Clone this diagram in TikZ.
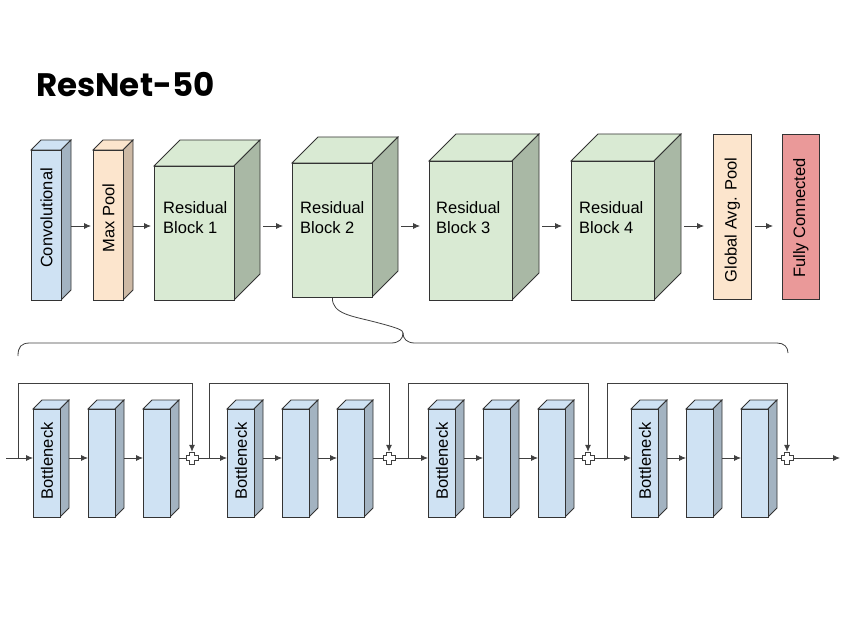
\documentclass[tikz,border=0pt]{standalone}
\usepackage{fontspec}
\setmainfont{Liberation Sans}
\newfontfamily\titlefont{Poppins}
\usepackage{tikz}
\usetikzlibrary{arrows.meta, calc, positioning}

\definecolor{convblue}{HTML}{CFE2F3}
\definecolor{convside}{HTML}{A3B3C1}
\definecolor{poolorange}{HTML}{FCE5CD}
\definecolor{poolside}{HTML}{CDB9A5}
\definecolor{resgreen}{HTML}{D9EAD3}
\definecolor{resside}{HTML}{A9B8A5}
\definecolor{fcred}{HTML}{EA9999}
\definecolor{edgegrey}{HTML}{333333}
\definecolor{linegrey}{HTML}{404040}

% 3D block: name, x, y (top of front face), width, height, depth, front colour, side colour
\newcommand{\cuboid}[8]{%
  \filldraw[box,fill=#7] (#2,#3) -- ++(#6,-#6) -- ++(#4,0) -- ++(-#6,#6) -- cycle;
  \filldraw[box,fill=#8] (#2+#4,#3) -- ++(#6,-#6) -- ++(0,#5) -- ++(-#6,#6) -- cycle;
  \node[box,fill=#7,minimum width=#4pt,minimum height=#5pt,anchor=north west] (#1) at (#2,#3) {};
  \coordinate (#1-o) at (#2+#4+#6,\liney);
}

\begin{document}
\begin{tikzpicture}[
    x=1pt, y=-1pt,
    >={Latex[length=7pt,width=6pt]},
    box/.style={draw=edgegrey,line width=0.8pt,inner sep=0pt},
    line/.style={draw=linegrey,line width=0.8pt},
    arr/.style={line,->},
    gaparr/.style={arr,shorten <=3pt,shorten >=9pt},
    hlabel/.style={font=\fontsize{16.5}{20}\selectfont,align=left,anchor=west,inner sep=0pt},
    vlabel/.style={font=\fontsize{16.5}{20}\selectfont,rotate=90,inner sep=0pt},
    plusmark/.style={draw=linegrey,fill=white,line width=0.8pt},
    brace/.style={draw=linegrey,line width=0.8pt}
]
\useasboundingbox (0,0) rectangle (848,636);

%--------------------------------------------------------------------
% Title
%--------------------------------------------------------------------
\node[font=\titlefont\bfseries\fontsize{32.5}{36}\selectfont,anchor=base west,inner sep=0pt]
      (title) at (36,97) {ResNet-50};

%--------------------------------------------------------------------
% Top row: the whole network
%--------------------------------------------------------------------
\def\liney{226}
\cuboid{conv}{31}{150}{30}{150}{10}{convblue}{convside}
\cuboid{pool}{93}{150}{30}{150}{10}{poolorange}{poolside}
\cuboid{res1}{154}{166}{80}{134}{26}{resgreen}{resside}
\cuboid{res2}{292}{163}{80}{134}{26}{resgreen}{resside}
\cuboid{res3}{429}{161}{83}{139}{27}{resgreen}{resside}
\cuboid{res4}{571}{161}{83}{139}{27}{resgreen}{resside}

\node[box,fill=poolorange,minimum width=38pt,minimum height=165pt,anchor=north west]
      (gap) at (713,134) {};
\node[box,fill=fcred,minimum width=37pt,minimum height=165pt,anchor=north west]
      (fc) at (782,134) {};
\coordinate (gap-o) at (gap.east |- conv-o);

\node[vlabel] (conv-t) at (conv.center |- 0,218) {Convolutional};
\node[vlabel] (pool-t) at (pool.center |- 0,218) {Max Pool};
\node[vlabel] (gap-t)  at (gap.center |- 0,220)  {Global Avg. Pool};
\node[vlabel] (fc-t)   at (fc.center |- 0,218)   {Fully Connected};

\node[hlabel,xshift=9pt] (res1-t) at (res1.west |- 0,218) {Residual\\Block 1};
\node[hlabel,xshift=8pt] (res2-t) at (res2.west |- 0,218) {Residual\\Block 2};
\node[hlabel,xshift=7pt] (res3-t) at (res3.west |- 0,218) {Residual\\Block 3};
\node[hlabel,xshift=8pt] (res4-t) at (res4.west |- 0,218) {Residual\\Block 4};

% forward connections
\draw[arr,shorten >=2pt] (conv-o) -- (conv-o -| pool.west);
\draw[arr,shorten >=3pt] (pool-o) -- (pool-o -| res1.west);
\draw[gaparr] (res1-o) -- (res1-o -| res2.west);
\draw[gaparr] (res2-o) -- (res2-o -| res3.west);
\draw[gaparr] (res3-o) -- (res3-o -| res4.west);
\draw[gaparr] (res4-o) -- (res4-o -| gap.west);
\draw[gaparr] (gap-o) -- (gap-o -| fc.west);

%--------------------------------------------------------------------
% Brace: expansion of Residual Block 2
%--------------------------------------------------------------------
\coordinate (cusp) at (403,333);
\draw[brace] (18,356) .. controls (18,347) and (21,343) .. (30,343) -- (391,343)
      .. controls (399,343) and (403,339) .. (cusp);
\draw[brace] (cusp) .. controls (403,339) and (407,343) .. (415,343) -- (777,343)
      .. controls (784,343) and (788,347) .. (788,353);
\draw[brace] (res2.south) .. controls (332,314) and (352,316) .. (375,322)
      .. controls (398,328) and (403,330) .. (cusp);

%--------------------------------------------------------------------
% Bottom row: bottleneck units with skip connections
%--------------------------------------------------------------------
\def\liney{458}
\coordinate (in)  at (6,458);
\coordinate (out) at (840,458);

\foreach \g/\b/\s/\p in {1/33/18/192, 2/227/209/389, 3/428/408/588, 4/631/607/787} {
  \cuboid{blk\g-1}{\b}{409}{27}{108}{9}{convblue}{convside}
  \cuboid{blk\g-2}{\b+55}{409}{27}{108}{9}{convblue}{convside}
  \cuboid{blk\g-3}{\b+110}{409}{27}{108}{9}{convblue}{convside}
  \node[vlabel] (blk\g-t) at (blk\g-1.center |- 0,461) {Bottleneck};

  \node[inner sep=0pt,minimum size=12pt] (add\g) at (\p,458) {};
  \coordinate (skip\g) at (\s,458);

  \draw[arr] (blk\g-1-o) -- (blk\g-1-o -| blk\g-2.west);
  \draw[arr] (blk\g-2-o) -- (blk\g-2-o -| blk\g-3.west);
  \draw[line] (blk\g-3-o) -- (add\g.west);
  \draw[arr] (skip\g) -- (skip\g |- 0,383) -| (add\g.north);

  \draw[plusmark] (add\g.center) +(-6,-2.5) -- +(-2.5,-2.5) -- +(-2.5,-6) -- +(2.5,-6)
      -- +(2.5,-2.5) -- +(6,-2.5) -- +(6,2.5) -- +(2.5,2.5) -- +(2.5,6) -- +(-2.5,6)
      -- +(-2.5,2.5) -- +(-6,2.5) -- cycle;
}

\draw[arr] (in) -- (in -| blk1-1.west);
\draw[arr] (add1.east) -- (in -| blk2-1.west);
\draw[arr] (add2.east) -- (in -| blk3-1.west);
\draw[arr] (add3.east) -- (in -| blk4-1.west);
\draw[arr] (add4.east) -- (out);

\end{tikzpicture}
\end{document}
